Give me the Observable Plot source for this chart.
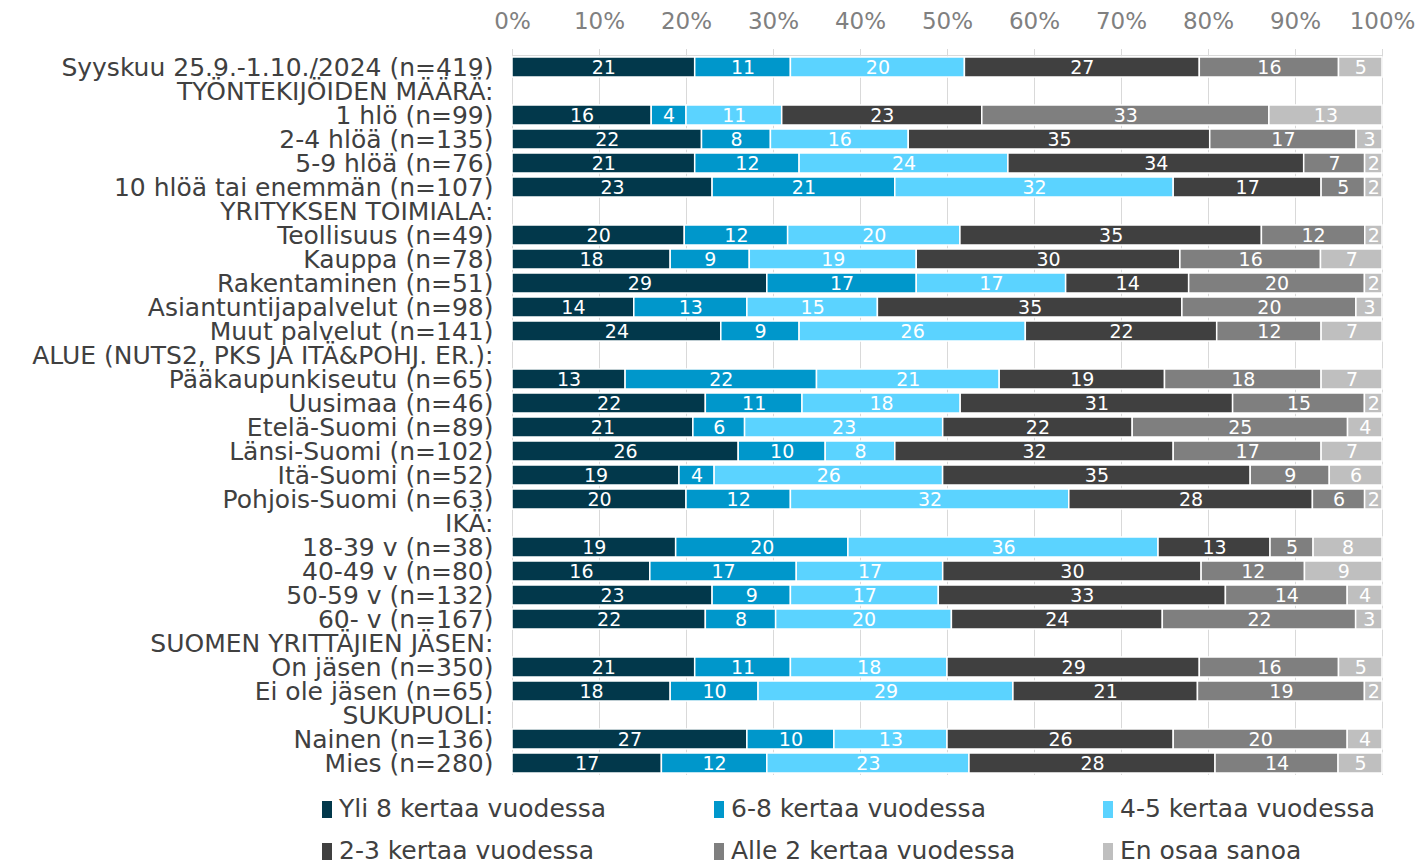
<!DOCTYPE html>
<html>
<head>
<meta charset="utf-8">
<script src="https://cdn.jsdelivr.net/npm/d3@7"></script>
<script src="https://cdn.jsdelivr.net/npm/@observablehq/plot@0.6"></script>
<style>
  html, body { margin: 0; padding: 0; background: #fff; }
  body { width: 1420px; height: 863px; overflow: hidden; font-family: "DejaVu Sans", Verdana, sans-serif; }
  #legend { display: grid; grid-template-columns: 392px 389px auto; padding-left: 322px; padding-top: 2px; }
  .item { height: 42px; display: flex; align-items: center; font-size: 25px; color: #404040; white-space: nowrap; }
  .sw { width: 10px; height: 17px; margin-right: 7px; margin-top: 2px; flex: none; }
</style>
</head>
<body>
<div id="chart"></div>
<div id="legend"></div>
<script>
const rows = [
  "Syyskuu 25.9.-1.10./2024 (n=419)",
  "TYÖNTEKIJÖIDEN MÄÄRÄ:",
  "1 hlö (n=99)",
  "2-4 hlöä (n=135)",
  "5-9 hlöä (n=76)",
  "10 hlöä tai enemmän (n=107)",
  "YRITYKSEN TOIMIALA:",
  "Teollisuus (n=49)",
  "Kauppa (n=78)",
  "Rakentaminen (n=51)",
  "Asiantuntijapalvelut (n=98)",
  "Muut palvelut (n=141)",
  "ALUE (NUTS2, PKS JA ITÄ&POHJ. ER.):",
  "Pääkaupunkiseutu (n=65)",
  "Uusimaa (n=46)",
  "Etelä-Suomi (n=89)",
  "Länsi-Suomi (n=102)",
  "Itä-Suomi (n=52)",
  "Pohjois-Suomi (n=63)",
  "IKÄ:",
  "18-39 v (n=38)",
  "40-49 v (n=80)",
  "50-59 v (n=132)",
  "60- v (n=167)",
  "SUOMEN YRITTÄJIEN JÄSEN:",
  "On jäsen (n=350)",
  "Ei ole jäsen (n=65)",
  "SUKUPUOLI:",
  "Nainen (n=136)",
  "Mies (n=280)"
];

const seriesNames = [
  "Yli 8 kertaa vuodessa",
  "6-8 kertaa vuodessa",
  "4-5 kertaa vuodessa",
  "2-3 kertaa vuodessa",
  "Alle 2 kertaa vuodessa",
  "En osaa sanoa"
];

const yli8   = [21, null, 16, 22, 21, 23, null, 20, 18, 29, 14, 24, null, 13, 22, 21, 26, 19, 20, null, 19, 16, 23, 22, null, 21, 18, null, 27, 17];
const k6to8  = [11, null,  4,  8, 12, 21, null, 12,  9, 17, 13,  9, null, 22, 11,  6, 10,  4, 12, null, 20, 17,  9,  8, null, 11, 10, null, 10, 12];
const k4to5  = [20, null, 11, 16, 24, 32, null, 20, 19, 17, 15, 26, null, 21, 18, 23,  8, 26, 32, null, 36, 17, 17, 20, null, 18, 29, null, 13, 23];
const k2to3  = [27, null, 23, 35, 34, 17, null, 35, 30, 14, 35, 22, null, 19, 31, 22, 32, 35, 28, null, 13, 30, 33, 24, null, 29, 21, null, 26, 28];
const alle2  = [16, null, 33, 17,  7,  5, null, 12, 16, 20, 20, 12, null, 18, 15, 25, 17,  9,  6, null,  5, 12, 14, 22, null, 16, 19, null, 20, 14];
const enOsaa = [ 5, null, 13,  3,  2,  2, null,  2,  7,  2,  3,  7, null,  7,  2,  4,  7,  6,  2, null,  8,  9,  4,  3, null,  5,  2, null,  4,  5];

const colors = ["#02384b", "#0097cb", "#5bd3ff", "#404040", "#7f7f7f", "#bfbfbf"];
const xTicks = [0, 0.1, 0.2, 0.3, 0.4, 0.5, 0.6, 0.7, 0.8, 0.9, 1];

const seriesValues = [yli8, k6to8, k4to5, k2to3, alle2, enOsaa];
const data = [];
rows.forEach((row, i) => {
  seriesNames.forEach((s, j) => {
    const v = seriesValues[j][i];
    if (v != null) data.push({row, series: s, value: v});
  });
});

const chart = Plot.plot({
  width: 1420,
  height: 785,
  marginLeft: 512,
  marginRight: 38,
  marginTop: 55,
  marginBottom: 10,
  style: {fontFamily: "DejaVu Sans, Verdana, sans-serif", background: "#fff"},
  x: {domain: [0, 1], label: null},
  y: {domain: rows, paddingInner: 0.17, paddingOuter: 0.085, label: null},
  color: {domain: seriesNames, range: colors},
  marks: [
    Plot.ruleX(xTicks, {stroke: "#d9d9d9", strokeWidth: 1}),
    Plot.frame({anchor: "top", stroke: "#d9d9d9"}),
    Plot.axisX(xTicks, {anchor: "top", label: null, tickSize: 7, tickPadding: 20, stroke: "#d9d9d9", fill: "#808080", fontSize: 23, tickFormat: d3.format(".0%")}),
    Plot.axisY({label: null, tickSize: 0, tickPadding: 19, fill: "#404040", fontSize: 25}),
    Plot.barX(data, Plot.stackX({x: "value", y: "row", fill: "series", order: null, offset: "normalize", stroke: "white", strokeWidth: 1.5})),
    Plot.text(data, Plot.stackX({x: "value", y: "row", z: "series", order: null, offset: "normalize", text: "value", fill: "white", fontSize: 19, clip: true}))
  ]
});
document.getElementById("chart").appendChild(chart);

const legend = document.getElementById("legend");
seriesNames.forEach((name, j) => {
  const item = document.createElement("div");
  item.className = "item";
  const sw = document.createElement("span");
  sw.className = "sw";
  sw.style.background = colors[j];
  const t = document.createElement("span");
  t.textContent = name;
  item.appendChild(sw);
  item.appendChild(t);
  legend.appendChild(item);
});
</script>
</body>
</html>
